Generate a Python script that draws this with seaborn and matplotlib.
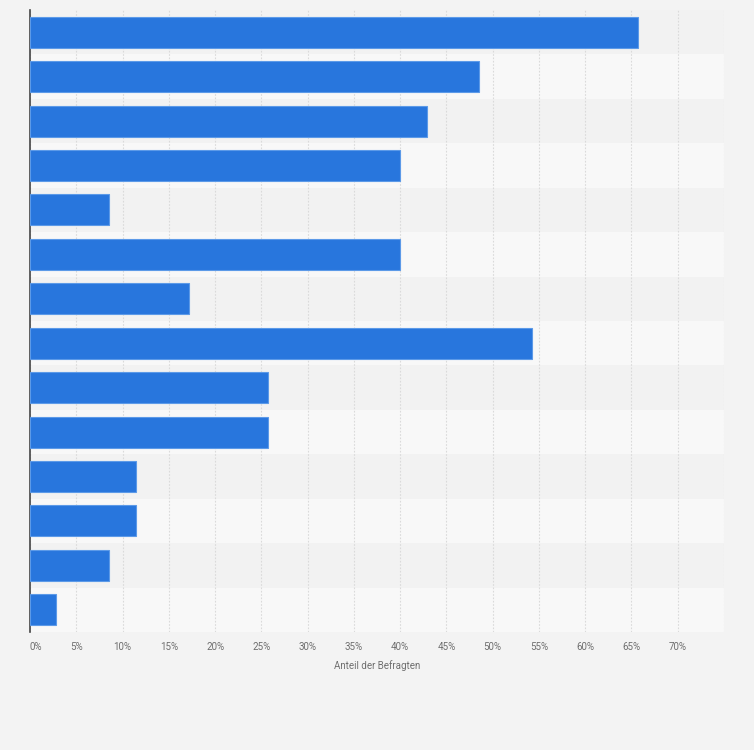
import matplotlib.pyplot as plt
import seaborn as sns

# Werte (Anteil der Befragten in %), von oben nach unten
anteile = [65.71, 48.57, 42.86, 40.0, 8.57, 40.0, 17.14, 54.29,
           25.71, 25.71, 11.43, 11.43, 8.57, 2.86]
# die Kategorien tragen im Original keine sichtbaren Beschriftungen
kategorien = [f"Antwort {i}" for i in range(1, 15)]
x_ticks = list(range(0, 80, 5))
x_labels = [f"{t}%" for t in x_ticks[:-1]] + [""]

sns.set_style("white")
plt.rcParams['font.family'] = ['Roboto', 'DejaVu Sans']

fig = plt.figure(figsize=(7.54, 7.5), dpi=100, facecolor='#f3f3f3')
ax = fig.add_axes([30 / 754, 1 - 632 / 750, 694 / 754, 622 / 750])
ax.set_facecolor('#f2f2f2')

# abwechselnde Zeilenstreifen
for i in range(len(kategorien)):
    if i % 2 == 1:
        ax.axhspan(i - 0.5, i + 0.5, color='#f8f8f8', zorder=0, lw=0)

sns.barplot(x=anteile, y=kategorien, orient='h', color='#2876dd',
            saturation=1, width=0.7, edgecolor='#5c9ae8', linewidth=0.8,
            ax=ax, zorder=3)

ax.set_xlim(0, 75)
ax.set_ylim(len(kategorien) - 0.5, -0.5)
ax.set_xticks(x_ticks)
ax.set_xticklabels(x_labels)
ax.get_xticklabels()[0].set_horizontalalignment('left')
ax.set_yticks([])
ax.set_ylabel("")
ax.xaxis.grid(True, linestyle=(0, (1.5, 1.5)), color='#dadada', lw=0.8)
ax.set_axisbelow(True)
ax.tick_params(axis='x', length=0, labelsize=7, labelcolor='#6e6e6e', pad=7)
ax.set_xlabel("Anteil der Befragten", fontsize=7, color='#6e6e6e', labelpad=6)

for s in ['top', 'right', 'bottom']:
    ax.spines[s].set_visible(False)
ax.spines['left'].set_color('#444444')
ax.spines['left'].set_linewidth(1.2)

fig.savefig("out.png", dpi=100, facecolor=fig.get_facecolor())
